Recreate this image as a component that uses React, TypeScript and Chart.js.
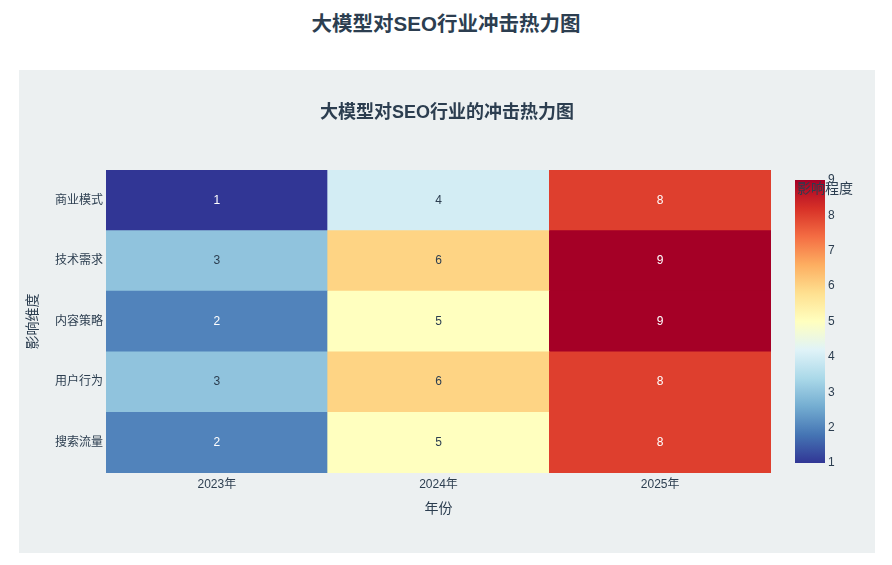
import React, { useEffect, useRef } from 'react';
import { Chart, registerables } from 'chart.js';

Chart.register(...registerables);

// ---- Data ----
const YEARS = ['2023年', '2024年', '2025年'];
// bottom to top
const DIMENSIONS = ['搜索流量', '用户行为', '内容策略', '技术需求', '商业模式'];
const SEARCH_TRAFFIC = [2, 5, 8];
const USER_BEHAVIOR = [3, 6, 8];
const CONTENT_STRATEGY = [2, 5, 9];
const TECH_DEMAND = [3, 6, 9];
const BUSINESS_MODEL = [1, 4, 8];
const ROW_VALUES = [SEARCH_TRAFFIC, USER_BEHAVIOR, CONTENT_STRATEGY, TECH_DEMAND, BUSINESS_MODEL];
const COLORBAR_TICKS = [1, 2, 3, 4, 5, 6, 7, 8, 9];
const Z_MIN = 1;
const Z_MAX = 9;

const MAIN_TITLE = '大模型对SEO行业冲击热力图';
const CHART_TITLE = '大模型对SEO行业的冲击热力图';
const X_TITLE = '年份';
const Y_TITLE = '影响维度';
const CB_TITLE = '影响程度';

// ---- Styles ----
const FONT = '"Liberation Sans", Arial, "Noto Sans CJK SC", sans-serif';
const TEXT = '#2c3e50';
const PANEL_BG = '#ecf0f1';

const STOPS: [number, [number, number, number]][] = [
  [0, [49, 54, 149]],
  [0.1, [69, 117, 180]],
  [0.2, [116, 173, 209]],
  [0.3, [171, 217, 233]],
  [0.4, [224, 243, 248]],
  [0.5, [255, 255, 191]],
  [0.6, [254, 224, 144]],
  [0.7, [253, 174, 97]],
  [0.8, [244, 109, 67]],
  [0.9, [215, 48, 39]],
  [1, [165, 0, 38]],
];

function colorRGB(v: number): [number, number, number] {
  const t = Math.max(0, Math.min(1, (v - Z_MIN) / (Z_MAX - Z_MIN)));
  for (let i = 1; i < STOPS.length; i++) {
    const [t1, c1] = STOPS[i];
    const [t0, c0] = STOPS[i - 1];
    if (t <= t1) {
      const f = (t - t0) / (t1 - t0);
      return [0, 1, 2].map((k) => Math.round(c0[k] + (c1[k] - c0[k]) * f)) as [number, number, number];
    }
  }
  return STOPS[STOPS.length - 1][1];
}
function colorFor(v: number) {
  const [r, g, b] = colorRGB(v);
  return `rgb(${r},${g},${b})`;
}
function textColorFor(v: number) {
  const [r, g, b] = colorRGB(v);
  const lum = 0.299 * r + 0.587 * g + 0.114 * b;
  return lum > 150 ? '#2c3e50' : '#ffffff';
}

const extrasPlugin = {
  id: 'heatExtras',
  afterDatasetsDraw(chart: any) {
    const ctx = chart.ctx;
    ctx.save();
    ctx.font = `12px ${FONT}`;
    ctx.textAlign = 'center';
    ctx.textBaseline = 'middle';
    chart.data.datasets.forEach((_ds: any, di: number) => {
      const meta = chart.getDatasetMeta(di);
      meta.data.forEach((el: any, i: number) => {
        const v = ROW_VALUES[di][i];
        const { x, y, base } = el.getProps(['x', 'y', 'base'], true);
        ctx.fillStyle = textColorFor(v);
        ctx.fillText(String(v), x, (y + base) / 2);
      });
    });
    ctx.restore();
  },
  afterDraw(chart: any) {
    const ctx = chart.ctx;
    ctx.save();
    // inner title
    ctx.font = `bold 18px ${FONT}`;
    ctx.fillStyle = TEXT;
    ctx.textAlign = 'center';
    ctx.textBaseline = 'middle';
    ctx.fillText(CHART_TITLE, chart.width / 2, 43);

    // colorbar
    const x0 = 776, x1 = 806, yTop = 110, yBot = 393;
    const grad = ctx.createLinearGradient(0, yBot, 0, yTop);
    STOPS.forEach(([t, c]) => grad.addColorStop(t, `rgb(${c[0]},${c[1]},${c[2]})`));
    ctx.fillStyle = grad;
    ctx.fillRect(x0, yTop, x1 - x0, yBot - yTop);

    ctx.font = `12px ${FONT}`;
    ctx.fillStyle = TEXT;
    ctx.textAlign = 'left';
    ctx.textBaseline = 'middle';
    COLORBAR_TICKS.forEach((v) => {
      const y = yBot - ((v - Z_MIN) / (Z_MAX - Z_MIN)) * (yBot - yTop);
      ctx.fillText(String(v), x1 + 3, y);
    });

    ctx.font = `14px ${FONT}`;
    ctx.fillStyle = TEXT;
    ctx.textAlign = 'left';
    ctx.fillText(CB_TITLE, 778, 119);
    ctx.restore();
  },
};

export default function App() {
  const ref = useRef<HTMLCanvasElement>(null);

  useEffect(() => {
    if (!ref.current) return;
    const datasets = DIMENSIONS.map((name, r) => ({
      label: name,
      data: ROW_VALUES[r].map(() => [r, r + 1]),
      backgroundColor: ROW_VALUES[r].map((v) => colorFor(v)),
      borderWidth: 0,
      grouped: false,
      barPercentage: 1,
      categoryPercentage: 1,
    }));
    const chart = new Chart(ref.current, {
      type: 'bar',
      data: { labels: YEARS, datasets: datasets as any },
      options: {
        animation: false,
        responsive: false,
        layout: { padding: { left: 0, right: 104, top: 100, bottom: 0 } },
        plugins: {
          legend: { display: false },
          tooltip: { enabled: false },
          title: { display: false },
        },
        scales: {
          x: {
            type: 'category',
            offset: true,
            grid: { display: false, drawTicks: false },
            border: { display: false },
            ticks: { font: { size: 12, family: FONT }, color: TEXT, padding: 4, maxRotation: 0 },
            title: {
              display: true,
              text: X_TITLE,
              font: { size: 14, family: FONT },
              color: TEXT,
              padding: { top: 0, bottom: 35.6 },
            },
            afterFit: (s: any) => {
              s.height = 80;
            },
          },
          y: {
            type: 'linear',
            min: 0,
            max: 5,
            grid: { display: false, drawTicks: false },
            border: { display: false },
            afterBuildTicks: (s: any) => {
              s.ticks = DIMENSIONS.map((_, i) => ({ value: i + 0.5 }));
            },
            ticks: {
              autoSkip: false,
              font: { size: 12, family: FONT },
              color: TEXT,
              padding: 3,
              callback: (v: any) => DIMENSIONS[Math.floor(Number(v))],
            },
            title: {
              display: true,
              text: Y_TITLE,
              font: { size: 14, family: FONT },
              color: TEXT,
              padding: { top: 5.6, bottom: 0 },
            },
            afterFit: (s: any) => {
              s.width = 87;
            },
          },
        },
      },
      plugins: [extrasPlugin],
    } as any);
    return () => chart.destroy();
  }, []);

  return (
    <div style={{ position: 'relative', width: 876, height: 549 }}>
      <div
        style={{
          position: 'absolute',
          left: 0,
          top: 4,
          width: 876,
          height: 24,
          lineHeight: '24px',
          textAlign: 'center',
          fontFamily: FONT,
          fontWeight: 'bold',
          fontSize: 20.5,
          color: TEXT,
        }}
      >
        {MAIN_TITLE}
      </div>
      <div
        style={{
          position: 'absolute',
          left: 11,
          top: 62,
          width: 856,
          height: 483,
          background: PANEL_BG,
        }}
      >
        <canvas ref={ref} width={856} height={483} style={{ display: 'block' }} />
      </div>
    </div>
  );
}
